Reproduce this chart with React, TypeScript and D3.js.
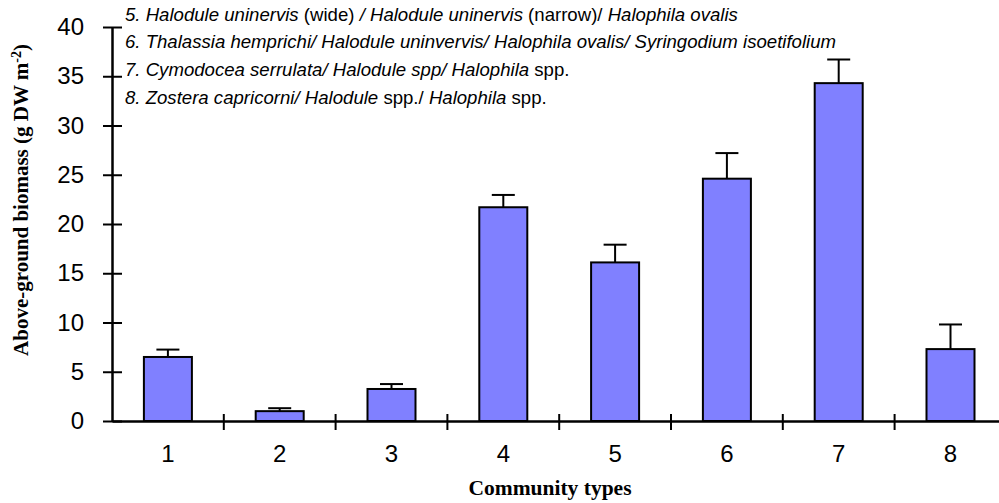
import React, { useEffect, useRef } from 'react'
import { select, scaleBand, scaleLinear, axisLeft, axisBottom } from 'd3'

const categories = ['1', '2', '3', '4', '5', '6', '7', '8']
const biomass = [6.5, 1.0, 3.25, 21.7, 16.1, 24.6, 34.3, 7.3]
const errors = [0.75, 0.3, 0.5, 1.25, 1.8, 2.6, 2.4, 2.5]
const yTicks = [0, 5, 10, 15, 20, 25, 30, 35, 40]

// legend lines: [text, italic?] segments
const legendLines: [string, boolean][][] = [
  [['5. Halodule uninervis', true], [' (wide) ', false], ['/ Halodule uninervis', true], [' (narrow)/ ', false], ['Halophila ovalis', true]],
  [['6. Thalassia hemprichi/ Halodule uninvervis/ Halophila ovalis/ Syringodium isoetifolium', true]],
  [['7. Cymodocea serrulata/ Halodule spp/ Halophila', true], [' spp.', false]],
  [['8. Zostera capricorni/ Halodule', true], [' spp./ ', false], ['Halophila', true], [' spp.', false]],
]

const W = 999
const H = 503

const App = () => {
  const svgRef = useRef<SVGSVGElement>(null)

  useEffect(() => {
    const svg = select(svgRef.current)
    svg.selectAll('*').remove()

    const x0 = 112
    const step = 111.8
    const xScale = scaleBand<string>()
      .domain(categories)
      .range([x0, x0 + step * categories.length])
      .padding(0)
    const yScale = scaleLinear().domain([0, 40]).range([421, 27])

    const barW = 48

    // bars
    svg.append('g')
      .selectAll('rect')
      .data(biomass)
      .join('rect')
      .attr('x', (d, i) => xScale(categories[i])! + xScale.bandwidth() / 2 - barW / 2)
      .attr('y', d => yScale(d))
      .attr('width', barW)
      .attr('height', d => yScale(0) - yScale(d))
      .attr('fill', '#8080ff')
      .attr('stroke', '#000')
      .attr('stroke-width', 2)

    // error bars
    const eb = svg.append('g').attr('stroke', '#000').attr('stroke-width', 2)
    biomass.forEach((d, i) => {
      const cx = xScale(categories[i])! + xScale.bandwidth() / 2
      eb.append('line')
        .attr('x1', cx).attr('x2', cx)
        .attr('y1', yScale(d)).attr('y2', yScale(d + errors[i]))
      eb.append('line')
        .attr('x1', cx - 11.5).attr('x2', cx + 11.5)
        .attr('y1', yScale(d + errors[i])).attr('y2', yScale(d + errors[i]))
    })

    // y axis
    const yAxis = axisLeft(yScale).tickValues(yTicks).tickSize(0).tickPadding(28)
    const gy = svg.append('g').attr('transform', `translate(${x0},0)`).call(yAxis)
    gy.select('.domain').attr('stroke', '#000').attr('stroke-width', 2.5)
    gy.selectAll('.tick line')
      .attr('x1', -9).attr('x2', 10)
      .attr('stroke', '#000').attr('stroke-width', 2)
    gy.selectAll('.tick text')
      .attr('font-family', 'Arial, "Liberation Sans", sans-serif')
      .attr('font-size', 24)
      .attr('fill', '#000')

    // x axis
    const xAxis = axisBottom(xScale).tickSize(0).tickPadding(24)
    const gx = svg.append('g').attr('transform', `translate(0,${yScale(0)})`).call(xAxis)
    gx.select('.domain').attr('stroke', '#000').attr('stroke-width', 2.5)
    gx.selectAll('.tick line').remove()
    gx.selectAll('.tick text')
      .attr('font-family', 'Arial, "Liberation Sans", sans-serif')
      .attr('font-size', 24)
      .attr('fill', '#000')
    gx.append('g')
      .selectAll('line')
      .data(categories.slice(1))
      .join('line')
      .attr('x1', d => xScale(d)!).attr('x2', d => xScale(d)!)
      .attr('y1', -7).attr('y2', 9)
      .attr('stroke', '#000').attr('stroke-width', 2)

    // legend text
    const lg = svg.append('g')
      .attr('font-family', 'Arial, "Liberation Sans", sans-serif')
      .attr('font-size', 18.6)
      .attr('fill', '#000')
    legendLines.forEach((segs, i) => {
      const t = lg.append('text').attr('x', 125).attr('y', 20.7 + i * 27.7)
      segs.forEach(([s, it]) => {
        t.append('tspan')
          .attr('font-style', it ? 'italic' : 'normal')
          .style('white-space', 'pre')
          .text(s)
      })
    })

    // axis titles
    const yt = svg.append('text')
      .attr('transform', 'translate(28,200) rotate(-90)')
      .attr('text-anchor', 'middle')
      .attr('font-family', '"Times New Roman", "Liberation Serif", serif')
      .attr('font-weight', 'bold')
      .attr('font-size', 21)
      .attr('fill', '#000')
    yt.append('tspan').text('Above-ground biomass (g DW m')
    yt.append('tspan').attr('baseline-shift', 'super').attr('font-size', 14).text('-2')
    yt.append('tspan').text(')')

    svg.append('text')
      .attr('x', 550).attr('y', 495)
      .attr('text-anchor', 'middle')
      .attr('font-family', '"Times New Roman", "Liberation Serif", serif')
      .attr('font-weight', 'bold')
      .attr('font-size', 21.5)
      .attr('fill', '#000')
      .text('Community types')
  }, [])

  return (
    <svg ref={svgRef} width={W} height={H} viewBox={`0 0 ${W} ${H}`}
      style={{ position: 'absolute', left: 0, top: 0, background: '#fff' }} />
  )
}

export default App
